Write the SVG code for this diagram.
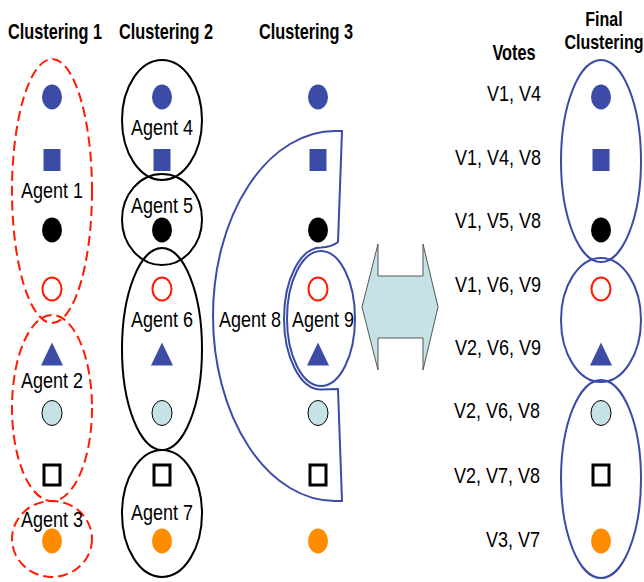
<svg xmlns="http://www.w3.org/2000/svg" width="644" height="582" viewBox="0 0 644 582">
<style>
.t{font-family:"Liberation Sans",Arial,sans-serif;font-size:16.3px;font-weight:bold;fill:#000;text-anchor:middle}
.f{font-family:"Liberation Sans",Arial,sans-serif;font-size:16px;font-weight:bold;fill:#000;text-anchor:middle}
.a{font-family:"Liberation Sans",Arial,sans-serif;font-size:18px;fill:#000;text-anchor:middle}
.v{font-family:"Liberation Sans",Arial,sans-serif;font-size:18px;fill:#000;text-anchor:end}
.red{fill:none;stroke:#ff1a00;stroke-width:2;stroke-dasharray:10 5}
.blk{fill:none;stroke:#000;stroke-width:2}
.blu{fill:none;stroke:#3b4ba6;stroke-width:2}
</style>
<defs>
<g id="s1"><ellipse cx="0" cy="0" rx="10" ry="12.5" fill="#3b4ba6"/></g>
<g id="s2"><rect x="-8.5" y="-11" width="17" height="22" fill="#3b4ba6"/></g>
<g id="s3"><ellipse cx="0" cy="0" rx="10" ry="12.5" fill="#000"/></g>
<g id="s4"><ellipse cx="0" cy="0" rx="9.5" ry="11.5" fill="#fff" stroke="#ff1a00" stroke-width="2"/></g>
<g id="s5"><polygon points="-11,11.5 0,-11.5 11,11.5" fill="#3b4ba6"/></g>
<g id="s6"><ellipse cx="0" cy="0" rx="10" ry="12.5" fill="#c5e3e6" stroke="#000" stroke-width="1"/></g>
<g id="s7"><rect x="-8" y="-10" width="16" height="20" fill="#fff" stroke="#000" stroke-width="3"/></g>
<g id="s8"><ellipse cx="0" cy="0" rx="10" ry="12.5" fill="#ff8c00"/></g>
<g id="col">
<use href="#s1" y="97"/>
<use href="#s2" y="160"/>
<use href="#s3" y="230"/>
<use href="#s4" y="289"/>
<use href="#s5" y="354"/>
<use href="#s6" y="413"/>
<use href="#s7" y="475"/>
<use href="#s8" y="541"/>
</g>
</defs>

<g id="titles">
<text class="t" transform="translate(55,39) scale(1,1.35)">Clustering 1</text>
<text class="t" transform="translate(166,39) scale(1,1.35)">Clustering 2</text>
<text class="t" transform="translate(306,39) scale(1,1.35)">Clustering 3</text>
<text class="t" transform="translate(514,60) scale(1,1.35)">Votes</text>
<text class="f" transform="translate(604,26) scale(1,1.28)">Final</text>
<text class="f" transform="translate(604,49) scale(1,1.28)">Clustering</text>
</g>

<g id="items">
<use href="#col" x="52"/>
<use href="#col" x="162"/>
<use href="#col" x="318"/>
<use href="#col" x="601"/>
</g>

<g id="agent1"><ellipse class="red" cx="52" cy="191" rx="40" ry="132"/><text class="a" transform="translate(52,198) scale(1,1.25)">Agent 1</text></g>
<g id="agent2"><ellipse class="red" cx="52" cy="408" rx="40" ry="93"/><text class="a" transform="translate(52,388) scale(1,1.25)">Agent 2</text></g>
<g id="agent3"><ellipse class="red" cx="52" cy="539" rx="40" ry="38"/><text class="a" transform="translate(52,527) scale(1,1.25)">Agent 3</text></g>

<g id="agent4"><ellipse class="blk" cx="162" cy="120" rx="40" ry="60"/><text class="a" transform="translate(162,135) scale(1,1.25)">Agent 4</text></g>
<g id="agent5"><ellipse class="blk" cx="162" cy="219.5" rx="40" ry="45.5"/><text class="a" transform="translate(162,213) scale(1,1.25)">Agent 5</text></g>
<g id="agent6"><ellipse class="blk" cx="162" cy="349" rx="40" ry="101"/><text class="a" transform="translate(162,327) scale(1,1.25)">Agent 6</text></g>
<g id="agent7"><ellipse class="blk" cx="162" cy="513.5" rx="40" ry="63.5"/><text class="a" transform="translate(162,520) scale(1,1.25)">Agent 7</text></g>

<g id="agent8"><path class="blu" d="M335,131 L342,131 L338,242 Q332,247 321,247.5 A37 71 0 0 0 321,389.5 L338,389 L342,501 L335,501 A122 185 0 0 1 335,131 Z"/><text class="a" transform="translate(250,327) scale(1,1.25)">Agent 8</text></g>
<g id="agent9"><ellipse class="blu" cx="321" cy="318.5" rx="34" ry="67.5"/><text class="a" transform="translate(323,327) scale(1,1.25)">Agent 9</text></g>

<g id="connectors">
<polygon points="362,307 378,244 378,276 423,276 423,244 438,307 423,370 423,338 378,338 378,370" fill="#c5e3e6" stroke="#555" stroke-width="1"/>
</g>

<g id="votes">
<text class="v" transform="translate(541,101) scale(1,1.25)">V1, V4</text>
<text class="v" transform="translate(541,165) scale(1,1.25)">V1, V4, V8</text>
<text class="v" transform="translate(541,228) scale(1,1.25)">V1, V5, V8</text>
<text class="v" transform="translate(541,292) scale(1,1.25)">V1, V6, V9</text>
<text class="v" transform="translate(541,355) scale(1,1.25)">V2, V6, V9</text>
<text class="v" transform="translate(540,418) scale(1,1.25)">V2, V6, V8</text>
<text class="v" transform="translate(540,483) scale(1,1.25)">V2, V7, V8</text>
<text class="v" transform="translate(540,547) scale(1,1.25)">V3, V7</text>
</g>

<g id="final1"><ellipse class="blu" cx="601" cy="161" rx="40" ry="101"/></g>
<g id="final2"><ellipse class="blu" cx="601" cy="320" rx="40" ry="62"/></g>
<g id="final3"><ellipse class="blu" cx="601" cy="479" rx="40" ry="99"/></g>
</svg>
